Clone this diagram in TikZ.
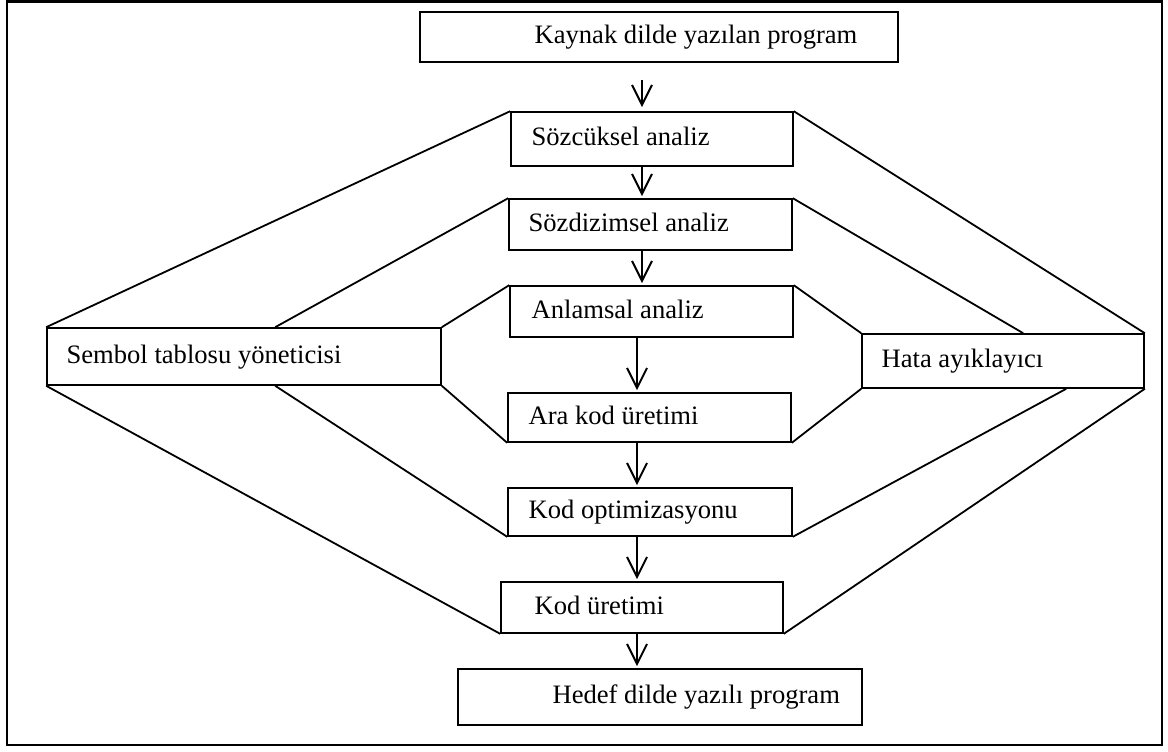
\documentclass[tikz,border=0pt]{standalone}
\usepackage{fontspec}
\setmainfont{Liberation Serif}
\usetikzlibrary{arrows.meta}
\newcommand\stagefont{\fontsize{13.3}{16}\selectfont}
\tikzset{
  stage/.style={draw=black, line width=0.8pt, inner sep=0pt},
  caption/.style={anchor=west, inner sep=0pt, text height=0.66em, text depth=0pt, font=\stagefont},
  link/.style={line width=0.9pt},
  arrow/.style={-{Straight Barb[length=10pt,width=10pt]}, line width=1pt, shorten >=1pt},
  frame/.style={line width=1.3pt}
}

\begin{document}
\begin{tikzpicture}[x=0.5pt,y=-0.5pt]
\useasboundingbox (0,0) rectangle (1168,751);
\draw[frame] (7,1.5) rectangle (1162,745);
% main chain
\node[stage, minimum width=239pt, minimum height=25pt, label={[caption, xshift=57.5pt]west:Kaynak dilde yazılan program}] (src) at (659,37) {};
\node[stage, minimum width=141pt, minimum height=27pt, label={[caption, xshift=10.5pt]west:Sözcüksel analiz}] (lex) at (652,139) {};
\node[stage, minimum width=141.5pt, minimum height=25.5pt, label={[caption, xshift=10pt]west:Sözdizimsel analiz}] (syn) at (650.5,224.5) {};
\node[stage, minimum width=141.5pt, minimum height=25.5pt, label={[caption, xshift=11pt]west:Anlamsal analiz}] (sem) at (651.5,311.5) {};
\node[stage, minimum width=141.5pt, minimum height=24.5pt, label={[caption, xshift=10.5pt]west:Ara kod üretimi}] (ir) at (649.5,417.5) {};
\node[stage, minimum width=142pt, minimum height=24pt, label={[caption, xshift=10.5pt]west:Kod optimizasyonu}] (opt) at (650,512) {};
\node[stage, minimum width=141pt, minimum height=25.5pt, label={[caption, xshift=17pt]west:Kod üretimi}] (gen) at (642,607.5) {};
\node[stage, minimum width=202pt, minimum height=28pt, label={[caption, xshift=47.5pt]west:Hedef dilde yazılı program}] (target) at (660,697) {};
% side boxes
\node[stage, minimum width=197pt, minimum height=28.5pt, label={[caption, xshift=10pt]west:Sembol tablosu yöneticisi}] (symtab) at (244,356.5) {};
\node[stage, minimum width=141pt, minimum height=27pt, label={[caption, xshift=10pt]west:Hata ayıklayıcı}] (err) at (1003,361) {};
% arrows
\coordinate (upper) at (642,0);
\coordinate (lower) at (637,0);
\draw[arrow, shorten <=8.5pt, shorten >=2pt] (src.south -| upper) -- (lex.north -| upper);
\draw[arrow] (lex.south -| upper) -- (syn.north -| upper);
\draw[arrow] (syn.south -| upper) -- (sem.north -| upper);
\draw[arrow] (sem.south -| lower) -- (ir.north -| lower);
\draw[arrow] (ir.south -| lower) -- (opt.north -| lower);
\draw[arrow] (opt.south -| lower) -- (gen.north -| lower);
\draw[arrow] (gen.south -| lower) -- (target.north -| lower);
% links to the symbol table
\draw[link] (lex.north west) -- (symtab.north west);
\draw[link] (syn.north west) -- ([xshift=114.5pt]symtab.north west);
\draw[link] (sem.north west) -- (symtab.north east);
\draw[link] (ir.south west) -- (symtab.south east);
\draw[link] (opt.south west) -- ([xshift=114.5pt]symtab.south west);
\draw[link] (gen.south west) -- (symtab.south west);
% links to the error handler
\draw[link] (lex.north east) -- (err.north east);
\draw[link] (syn.north east) -- ([xshift=81pt]err.north west);
\draw[link] (sem.north east) -- (err.north west);
\draw[link] (ir.south east) -- (err.south west);
\draw[link] (opt.south east) -- ([xshift=102.5pt]err.south west);
\draw[link] (gen.south east) -- (err.south east);
\end{tikzpicture}
\end{document}
